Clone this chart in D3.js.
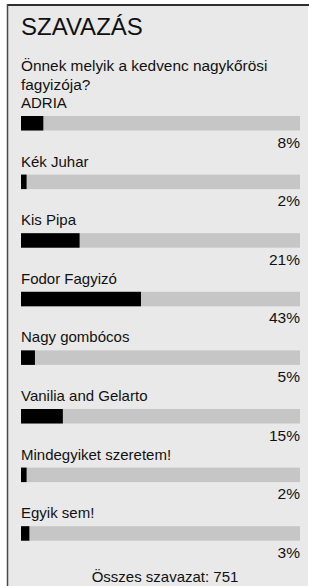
<!DOCTYPE html>
<html>
<head>
<meta charset="utf-8">
<script src="https://cdn.jsdelivr.net/npm/d3@7"></script>
<style>
  html, body { margin: 0; padding: 0; background: #fff; }
  svg { display: block; }
</style>
</head>
<body>
<div id="chart"></div>
<script>
// --- Adatok ---
const title = "SZAVAZÁS";
const questionLines = ["Önnek melyik a kedvenc nagykőrösi", "fagyizója?"];
const options = ["ADRIA", "Kék Juhar", "Kis Pipa", "Fodor Fagyizó", "Nagy gombócos",
  "Vanilia and Gelarto", "Mindegyiket szeretem!", "Egyik sem!"];
const percents = [8, 2, 21, 43, 5, 15, 2, 3];
const footer = "Összes szavazat: 751";

const width = 309, height = 586;
const font = "'Liberation Sans', Arial, sans-serif";

const svg = d3.select("#chart").append("svg")
  .attr("width", width)
  .attr("height", height);

// panel háttér + keret
svg.append("rect")
  .attr("x", 7).attr("y", 4)
  .attr("width", width - 8).attr("height", height)
  .attr("fill", "#e9e9e9");
svg.append("line")
  .attr("x1", 7).attr("x2", width).attr("y1", 5).attr("y2", 5)
  .attr("stroke", "#2e2e2e").attr("stroke-width", 2);
svg.append("line")
  .attr("x1", 7.5).attr("x2", 7.5).attr("y1", 4).attr("y2", height)
  .attr("stroke", "#4a4a4a").attr("stroke-width", 1.5);

svg.append("text")
  .attr("x", 21).attr("y", 35)
  .attr("font-family", font).attr("font-size", 24)
  .attr("fill", "#111")
  .text(title);

svg.append("g").selectAll("text")
  .data(questionLines)
  .join("text")
  .attr("x", 21)
  .attr("y", (d, i) => 71 + i * 19)
  .attr("font-family", font).attr("font-size", 15.4)
  .attr("fill", "#111")
  .text(d => d);

// skálák
const x = d3.scaleLinear().domain([0, 100]).range([21, 300]);
const y = d3.scaleBand().domain(options).range([116, 116 + 58.6 * options.length]).padding(0);
const barH = 14.5;

const rows = svg.append("g").selectAll("g")
  .data(options.map((o, i) => ({ name: o, pct: percents[i] })))
  .join("g")
  .attr("transform", d => `translate(0,${y(d.name)})`);

rows.append("text")
  .attr("x", 21).attr("y", -8)
  .attr("font-family", font).attr("font-size", 15)
  .attr("fill", "#111")
  .text(d => d.name);

rows.append("rect")
  .attr("x", x(0)).attr("y", 0)
  .attr("width", x(100) - x(0)).attr("height", barH)
  .attr("fill", "#c6c6c6");

rows.append("rect")
  .attr("x", x(0)).attr("y", 0)
  .attr("width", d => Math.max(4, x(d.pct) - x(0))).attr("height", barH)
  .attr("fill", "#000");

rows.append("text")
  .attr("x", x(100)).attr("y", barH + 17)
  .attr("text-anchor", "end")
  .attr("font-family", font).attr("font-size", 15.5)
  .attr("fill", "#111")
  .text(d => d.pct + "%");

svg.append("text")
  .attr("x", 165).attr("y", 582)
  .attr("text-anchor", "middle")
  .attr("font-family", font).attr("font-size", 15)
  .attr("fill", "#111")
  .text(footer);
</script>
</body>
</html>
